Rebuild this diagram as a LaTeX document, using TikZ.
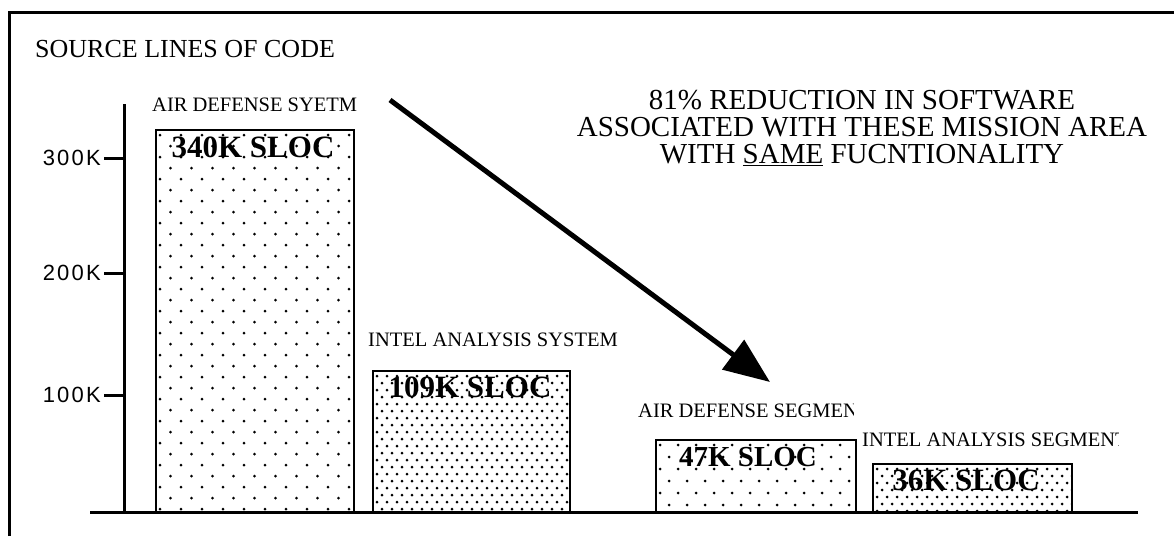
\documentclass[tikz,border=0pt]{standalone}
\usepackage{fontspec}
\setmainfont{Liberation Serif}
\newfontfamily\axisfont[LetterSpace=10]{Liberation Sans}
\usetikzlibrary{arrows.meta}
\newcommand\sdots[6]{%
  \begin{scope}
    \clip (#1,#2) rectangle (#3,#4);
    \pgfmathtruncatemacro\nrows{(#4-#2)/#6+1}
    \pgfmathtruncatemacro\ncols{(#3-#1)/#5+1}
    \foreach \i in {0,...,\nrows}{\foreach \j in {0,...,\ncols}{
      \fill ({#1+4+\j*#5+mod(\i,2)*#5/2},{#2+5+\i*#6}) circle (1.5pt);
    }}
  \end{scope}}
\begin{document}
\begin{tikzpicture}[x=1pt,y=-1pt,
  bar/.style={draw=black, line width=2.8pt, inner sep=0pt, outer sep=0pt, anchor=south west},
  lbl/.style={font=\fontsize{20.5}{20.5}\selectfont, anchor=west, inner sep=0pt},
  val/.style={font=\bfseries\fontsize{31}{31}\selectfont, inner sep=0pt},
  tick/.style={font=\axisfont\fontsize{22}{22}\selectfont, anchor=east, inner sep=0pt},
  note/.style={font=\fontsize{29}{27}\selectfont, inner sep=0pt, align=center},
  heavy/.style={line width=3pt}]
\useasboundingbox (0,0) rectangle (1174,536);
\fill[white] (0,0) rectangle (1174,536);
% frame
\draw[heavy] (9,536) -- (9,12) -- (1174,12);
% title
\node[font=\fontsize{26}{26}\selectfont, anchor=west, inner sep=0pt] (title) at (35,49) {SOURCE LINES OF CODE};
% axes
\coordinate (ytop) at (124,104);
\coordinate (ybot) at (124,512);
\coordinate (bl) at (90,512);
\coordinate (br) at (1138,512);
\draw[heavy] (ytop) -- (ybot);
\draw[heavy] (bl) -- (br);
% ticks
\node[tick] (t300) at (101,158) {300K};
\node[tick] (t200) at (101,273) {200K};
\node[tick] (t100) at (101,395) {100K};
\coordinate (k300) at (124,158);
\coordinate (k200) at (124,273);
\coordinate (k100) at (124,395);
\draw[heavy] ([xshift=3pt]t300.east) -- (k300);
\draw[heavy] ([xshift=3pt]t200.east) -- (k200);
\draw[heavy] ([xshift=3pt]t100.east) -- (k100);
% dots
\sdots{156}{130}{354}{512}{21}{11}
\sdots{373}{371}{570}{512}{10}{7}
\sdots{656}{440}{856}{512}{18}{12}
\sdots{873}{464}{1072}{512}{10}{7}
% bars
\node[bar, minimum width=198pt, minimum height=382pt] (b1) at (156,512) {};
\node[bar, minimum width=197pt, minimum height=141pt] (b2) at (373,512) {};
\node[bar, minimum width=200pt, minimum height=72pt] (b3) at (656,512) {};
\node[bar, minimum width=199pt, minimum height=48pt] (b4) at (873,512) {};
% values
\node[val] (v1) at (253,147) {340K SLOC};
\node[val] (v2) at (470,387) {109K SLOC};
\node[val, font=\bfseries\fontsize{29}{29}\selectfont] (v3) at (748,457) {47K SLOC};
\node[val] (v4) at (966,480) {36K SLOC};
% labels
\node[lbl] (l1) at (152,105) {AIR DEFENSE SYETM};
\begin{scope}
  \clip (0,0) rectangle (638,536);
  \node[lbl] (l2) at (368,340) {INTEL ANALYSIS SYSTEM};
\end{scope}
\begin{scope}
  \clip (0,0) rectangle (853,536);
  \node[lbl] (l3) at (638,411) {AIR DEFENSE SEGMENT};
\end{scope}
\begin{scope}
  \clip (0,0) rectangle (1118,536);
  \node[lbl] (l4) at (862,440) {INTEL ANALYSIS SEGMENT};
\end{scope}
% note
\begin{scope}
  \clip (0,0) -- (1093,0) -- (1093,116) -- (1174,116) -- (1174,536) -- (0,536) -- cycle;
  \node[note] (note) at (862,128) {81\% REDUCTION IN SOFTWARE\\ASSOCIATED WITH THESE MISSION AREA\\WITH \underline{SAME} FUCNTIONALITY};
\end{scope}
% arrow
\coordinate (as) at (390,100);
\coordinate (ae) at (770,382);
\draw[line width=5pt, -{Triangle[length=46pt,width=36pt]}] (as) -- (ae);
\end{tikzpicture}
\end{document}
